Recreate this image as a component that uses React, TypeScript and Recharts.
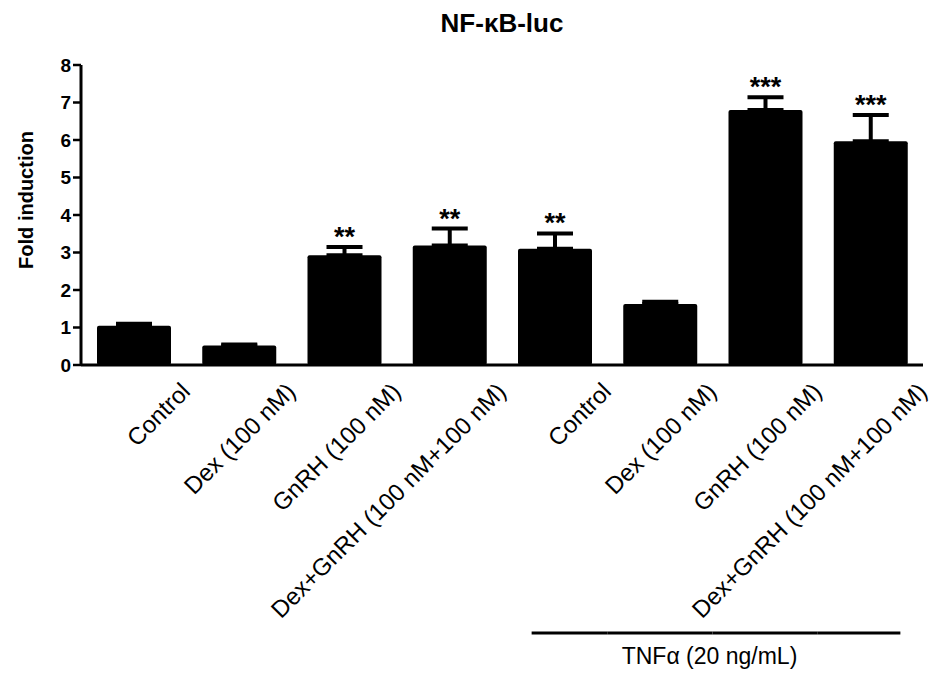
import React from "react";
import { BarChart, Bar, XAxis, YAxis, ErrorBar, LabelList, Label } from "recharts";

const categories = [
  "Control",
  "Dex (100 nM)",
  "GnRH (100 nM)",
  "Dex+GnRH (100 nM+100 nM)",
  "Control",
  "Dex (100 nM)",
  "GnRH (100 nM)",
  "Dex+GnRH (100 nM+100 nM)",
];
const foldInduction = [1.05, 0.52, 2.93, 3.19, 3.1, 1.63, 6.8, 5.97];
const sem = [0.05, 0.03, 0.22, 0.45, 0.41, 0.06, 0.34, 0.7];
const stars = ["", "", "**", "**", "**", "", "***", "***"];
const yTicks = [0, 1, 2, 3, 4, 5, 6, 7, 8];
const tnfGroup = [4, 5, 6, 7];

const data = categories.map((name, i) => ({
  name,
  value: foldInduction[i],
  err: [0, sem[i]],
  star: stars[i],
}));

const FONT = "Arial, 'Liberation Sans', sans-serif";
const CHART_W = 940;
const CHART_H = 673;
const Y_AXIS_W = 81;
const RIGHT = 17;
const band = (CHART_W - Y_AXIS_W - RIGHT) / categories.length;

const XTick = (props: any) => {
  const { x, y, payload, index } = props;
  const ex = x + 58;
  const ey = y + 28;
  const first = tnfGroup[0];
  const last = tnfGroup[tnfGroup.length - 1];
  return (
    <g>
      <text
        x={ex}
        y={ey}
        transform={`rotate(-45 ${ex} ${ey})`}
        textAnchor="end"
        fontSize={24}
        fontFamily={FONT}
        fill="#000"
      >
        {payload.value}
      </text>
      {tnfGroup.includes(index) && (
        <line
          x1={index === first ? x - 23 : x - band / 2}
          x2={index === last ? x + 30 : x + band / 2}
          y1={y + 268}
          y2={y + 268}
          stroke="#000"
          strokeWidth={3}
        />
      )}
      {index === first && (
        <text
          x={x + (band * (last - first)) / 2 - 3}
          y={y + 299}
          textAnchor="middle"
          fontSize={23}
          fontFamily={FONT}
          fill="#000"
        >
          TNFα (20 ng/mL)
        </text>
      )}
    </g>
  );
};

const StarLabel = (props: any) => {
  const { x, y, width, height, value, index } = props;
  if (!value) return null;
  const capY = y - (sem[index] * height) / foldInduction[index];
  return (
    <text
      x={x + width / 2}
      y={capY - 1}
      textAnchor="middle"
      fontSize={27}
      fontWeight="bold"
      fontFamily={FONT}
      fill="#000"
    >
      {value}
    </text>
  );
};

export default function App() {
  return (
    <div style={{ position: "relative", width: CHART_W, height: CHART_H, fontFamily: FONT }}>
      <style>{"body{margin:0}"}</style>
      <div
        style={{
          position: "absolute",
          left: Y_AXIS_W,
          width: CHART_W - Y_AXIS_W - RIGHT,
          top: 8,
          textAlign: "center",
          fontSize: 26,
          fontWeight: "bold",
          color: "#000",
        }}
      >
        NF-κB-luc
      </div>
      <BarChart
        width={CHART_W}
        height={CHART_H}
        data={data}
        margin={{ top: 65, right: RIGHT, bottom: 0, left: 0 }}
      >
        <YAxis
          width={Y_AXIS_W}
          domain={[0, 8]}
          ticks={yTicks}
          interval={0}
          axisLine={{ stroke: "#000", strokeWidth: 3 }}
          tickLine={{ stroke: "#000", strokeWidth: 2.5 }}
          tickSize={8}
          tick={{ fontSize: 19, fontWeight: "bold", fill: "#000", fontFamily: FONT }}
        >
          <Label
            content={(p: any) => {
              const vb = p.viewBox;
              const cy = vb.y + vb.height / 2 - 15;
              return (
                <text
                  x={33}
                  y={cy}
                  transform={`rotate(-90 33 ${cy})`}
                  textAnchor="middle"
                  fontSize={20}
                  fontWeight="bold"
                  fontFamily={FONT}
                  fill="#000"
                >
                  Fold induction
                </text>
              );
            }}
          />
        </YAxis>
        <XAxis
          dataKey="name"
          height={CHART_H - 365}
          interval={0}
          tickLine={false}
          tickSize={0}
          tickMargin={0}
          axisLine={{ stroke: "#000", strokeWidth: 3 }}
          tick={<XTick />}
        />
        <Bar dataKey="value" fill="#000" barSize={74} radius={2} isAnimationActive={false}>
          <ErrorBar dataKey="err" width={18} stroke="#000" strokeWidth={4} isAnimationActive={false} />
          <LabelList dataKey="star" content={<StarLabel />} />
        </Bar>
      </BarChart>
    </div>
  );
}
